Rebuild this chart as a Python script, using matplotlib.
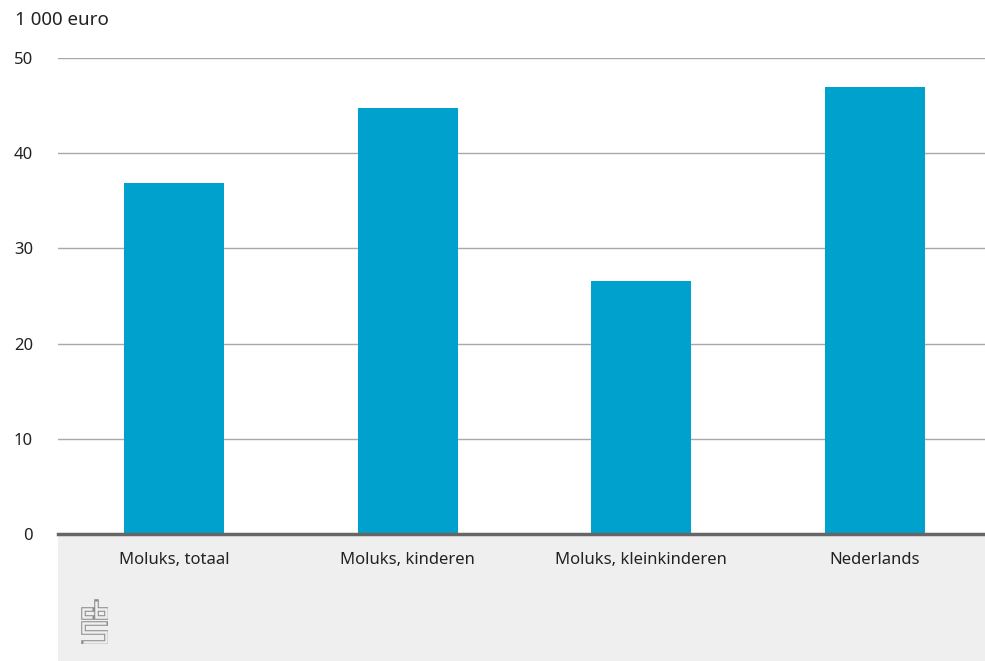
import matplotlib
matplotlib.use("Agg")
import matplotlib.pyplot as plt
from matplotlib.patches import Rectangle

categories = ["Moluks, totaal", "Moluks, kinderen", "Moluks, kleinkinderen", "Nederlands"]
values = [36.9, 44.7, 26.6, 47.0]
yticks = [0, 10, 20, 30, 40, 50]
unit_label = "1 000 euro"

W, H = 985, 661
plt.rcParams['font.family'] = ['Noto Sans', 'DejaVu Sans']
fig = plt.figure(figsize=(W / 100, H / 100), dpi=100)

def fx(px):
    return px / W

def fy(py):
    return 1 - py / H

# grey footer panel
fig.patches.append(Rectangle((fx(58), fy(661)), fx(985) - fx(58), fy(534) - fy(661),
                             transform=fig.transFigure, facecolor='#efefef', edgecolor='none', zorder=-5))

ax = fig.add_axes([fx(58), fy(534), 1 - fx(58), fy(58) - fy(534)])
ax.set_facecolor('none')
x = range(len(categories))
ax.bar(x, values, width=0.428, color='#00a1cd', zorder=3)
ax.set_xlim(-0.496, 3.471)
ax.set_ylim(0, 50)
ax.set_yticks(yticks)
ax.set_yticklabels([str(t) for t in yticks])
ax.set_xticks(list(x))
ax.set_xticklabels(categories)
for s in ax.spines.values():
    s.set_visible(False)
ax.tick_params(axis='y', length=0, pad=18, labelsize=12, labelcolor='#222222')
ax.tick_params(axis='x', length=0, pad=13, labelsize=12, labelcolor='#222222')
for t in yticks[1:]:
    ax.axhline(t, color='#a8a8a8', linewidth=1.0, zorder=1)
ax.axhline(0, color='#666666', linewidth=2.5, zorder=4, clip_on=False)

fig.text(fx(15), fy(20), unit_label, ha='left', va='center', fontsize=13.5, color='#222222')

# CBS logo (double-stroked paths)
lax = fig.add_axes([fx(81), fy(644), fx(108) - fx(81), fy(599) - fy(644)])
lax.set_facecolor('none')
lax.set_xlim(0, 27)
lax.set_ylim(45, 0)
lax.axis('off')
paths = [
    [(11, 10), (2, 10), (2, 18), (11, 18)],
    [(15, 2), (15, 18), (25, 18), (25, 10), (15, 10)],
    [(25, 24), (2, 24), (2, 33), (25, 33), (25, 43), (2, 43)],
]
for pts in paths:
    xs, ys = zip(*pts)
    lax.plot(xs, ys, color='#8c8c8c', linewidth=3.3, solid_capstyle='projecting',
             solid_joinstyle='miter')
    lax.plot(xs, ys, color='#efefef', linewidth=1.8, solid_capstyle='butt',
             solid_joinstyle='miter')

fig.savefig("out.png", dpi=100)
